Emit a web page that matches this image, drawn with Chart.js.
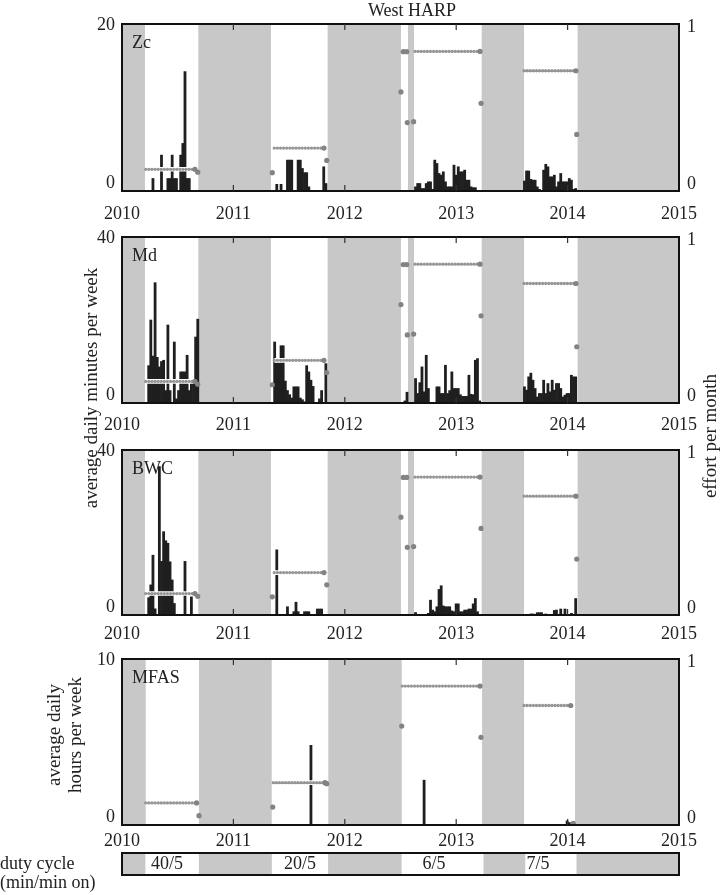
<!DOCTYPE html>
<html><head><meta charset="utf-8">
<script src="https://cdn.jsdelivr.net/npm/chart.js@4.4.1/dist/chart.umd.min.js"></script>
<style>
html,body{margin:0;padding:0;background:#fff;width:724px;height:895px;overflow:hidden;}
canvas{position:absolute;left:0;top:0;}
</style></head><body>
<canvas id="c1" width="724" height="895"></canvas>
<canvas id="c2" width="724" height="895"></canvas>
<canvas id="c3" width="724" height="895"></canvas>
<canvas id="c4" width="724" height="895"></canvas>
<script>
// ---------- data ----------
const years = [2010, 2011, 2012, 2013, 2014, 2015];
const yearLabels = ['2010', '2011', '2012', '2013', '2014', '2015'];
const effortTicks = ['0', '1'];

// first week (weeks since 1 Jan 2010) of each recording period's weekly values
const depStartWeek = [12, 71, 131, 137, 188];

const zcDep1 = [0, 0, 1.5, 0, 0, 0, 4.3, 0, 0, 1.5, 1.5, 4.3, 1.5, 1.5, 0, 4.3, 5.7, 14.3, 1.5, 1.5, 0, 0, 0, 0];
const zcDep2 = [0, 0.8, 0, 0.8, 0, 0, 3.7, 3.7, 3.7, 0, 0, 3.7, 3.7, 2.7, 2.2, 2.2, 0.5, 0, 0, 0, 0, 0, 0, 2.9, 0.9, 0];
const zcDep3a = [0, 0, 0];
const zcDep3b = [0.5, 0.9, 0.9, 0.3, 0.3, 0.9, 1.1, 1.1, 0.2, 3.7, 3.3, 2.1, 1.9, 2.3, 1.1, 0.5, 0.5, 0.5, 3.1, 1.9, 2.9, 2.3, 2.3, 2.5, 1.3, 1.3, 0.5, 0.4, 0.4, 0, 0];
const zcDep4 = [1.2, 2.4, 2.4, 1.4, 1.3, 1.3, 0.5, 0.2, 0, 2.5, 3.2, 2.9, 1.7, 1.7, 1.9, 0.5, 1.1, 2.1, 1.1, 1.1, 1.1, 1.5, 1.3, 0.2, 0.3];

const mdDep1 = [9, 20, 11.3, 29, 11, 8.7, 10, 10.3, 3, 18.8, 3, 0, 14.7, 1, 3, 7.5, 7.5, 7.5, 11.5, 3, 5.5, 5.5, 15.9, 20.2];
const mdDep2 = [14.7, 9.7, 9.7, 13.8, 13.8, 5.3, 3, 2, 1.2, 3.9, 3.9, 3.9, 1.2, 0.8, 0.3, 9, 7.5, 5.5, 4, 0, 0, 1, 3, 0, 9.5, 0];
const mdDep3a = [0, 0.5, 2.6];
const mdDep3b = [5.9, 2.3, 4.9, 8.7, 2.7, 11.5, 3.5, 0, 0, 0, 3.9, 3.9, 2.3, 2.3, 9.1, 2.3, 3, 7.5, 3.5, 3.5, 3.5, 2, 1.6, 1.6, 1.6, 6.7, 2.1, 2, 10.3, 10.7, 0.5];
const mdDep4 = [3.9, 3.1, 6.3, 7.2, 5.5, 3.5, 1.45, 2.3, 2.3, 5.5, 2.3, 4.7, 2.7, 5.5, 3.1, 4.7, 4.7, 3.5, 1.45, 1.9, 2.3, 2.3, 6.7, 6.3, 6.3];

const bwcDep1 = [4.2, 7.3, 14.5, 1.5, 0, 36, 13, 20.2, 18, 17.4, 12.9, 8.5, 2.8, 0, 0, 0, 0, 13, 0, 0, 4.4, 0, 0, 0];
const bwcDep2 = [0, 15.8, 0, 0, 0, 0, 2, 0, 0, 0.8, 3.1, 0.8, 0, 0, 0.8, 0.8, 0.8, 0, 0, 0, 1.45, 1.45, 1.45, 0, 0, 0];
const bwcDep3a = [0, 0, 0];
const bwcDep3b = [0.6, 0, 0, 0, 0, 0, 0.4, 3.6, 1.2, 0.8, 2, 6.2, 7.1, 2.2, 2, 2, 2, 1, 0.8, 2.7, 2.7, 0.8, 0.8, 1.2, 1.2, 1.45, 1.45, 2.7, 4, 0.8, 0];
const bwcDep4 = [0, 0, 0, 0.25, 0.25, 0, 0.57, 0.57, 0.57, 0, 0.25, 0, 0, 0, 1.1, 1.2, 0, 1.45, 0, 1.45, 0, 0, 0.4, 0, 4];

const mfasStartWeek = [88, 141, 208];
const mfasDep2 = [4.8];
const mfasDep3 = [2.7];
const mfasDep4 = [0.25, 0.15];

// effort per month (right axis)
const effortStart = [2010.213, 2011.367, 2012.630, 2013.609];
const effortEnd   = [2010.655, 2011.813, 2013.214, 2014.075];
const effortLevel = [0.13, 0.257, 0.836, 0.72];
const effortDotX = [2010.655, 2010.680, 2011.349, 2011.813, 2011.838, 2012.504, 2012.525, 2012.556, 2012.561, 2012.618, 2013.214, 2013.223, 2014.075, 2014.082];
const effortDotY = [0.13, 0.113, 0.11, 0.257, 0.183, 0.593, 0.834, 0.834, 0.41, 0.415, 0.836, 0.525, 0.72, 0.339];

const mfasEffortStart = [2010.213, 2011.358, 2012.515, 2013.609];
const mfasEffortEnd   = [2010.670, 2011.822, 2013.214, 2014.028];
const mfasEffortLevel = [0.133, 0.255, 0.837, 0.72];
const mfasDotX = [2010.670, 2010.691, 2011.353, 2011.822, 2011.838, 2012.511, 2013.214, 2013.222, 2014.028, 2014.051];
const mfasDotY = [0.133, 0.056, 0.108, 0.255, 0.249, 0.596, 0.837, 0.528, 0.72, 0.01];

// periods without recording (grey)
const offStart = [2010.0, 2010.685, 2011.846, 2012.567, 2013.229, 2014.090];
const offEnd   = [2010.206, 2011.337, 2012.504, 2012.621, 2013.609, 2015.0];
const mfasOffStart = [2010.0, 2010.691, 2011.852, 2013.232, 2014.067];
const mfasOffEnd   = [2010.213, 2011.344, 2012.511, 2013.609, 2015.0];
const dutyOffStart = [2010.0, 2010.690, 2011.850, 2013.245, 2014.080];
const dutyOffEnd   = [2010.210, 2011.345, 2012.510, 2013.620, 2015.0];
const dutyLabels = ['40/5', '20/5', '6/5', '7/5'];
const dutyLabelAt = [2010.405, 2011.598, 2012.800, 2013.734];

// ---------- helpers ----------
const WEEK = 7 / 365.25;
const SERIF = '"Liberation Serif", "Times New Roman", serif';
function weekX(k) { return 2010 + (k + 0.5) * WEEK; }
function barPoints(starts, series) {
  const pts = [];
  series.forEach((vals, i) => vals.forEach((v, j) => pts.push({ x: weekX(starts[i] + j), y: v })));
  return pts;
}
function effortDatasets(st, en, lv, dx, dy) {
  const ds = [];
  st.forEach((s, i) => {
    const d = [{ x: s, y: lv[i] }, { x: en[i], y: lv[i] }];
    ds.push({ type: 'line', data: d, yAxisID: 'y2', borderColor: '#ffffff', borderWidth: 4.6,
      pointRadius: 0, order: 2, fill: false });
    ds.push({ type: 'line', data: d, yAxisID: 'y2', borderColor: '#969696', borderWidth: 3.3,
      borderDash: [0.001, 3.1], borderCapStyle: 'round', pointRadius: 0, order: 1, fill: false });
  });
  ds.push({ type: 'line', data: dx.map((x, i) => ({ x, y: dy[i] })), yAxisID: 'y2', showLine: false,
    pointRadius: 2.6, pointBackgroundColor: '#838383', pointBorderWidth: 0, order: 0 });
  return ds;
}

function panelPlugin(cfg) {
  return {
    id: 'panel' + cfg.label,
    beforeDatasetsDraw(chart) {
      const { ctx, chartArea: a, scales: { x } } = chart;
      ctx.save();
      ctx.fillStyle = '#c8c8c8';
      cfg.offS.forEach((s, i) => {
        const x0 = x.getPixelForValue(s), x1 = x.getPixelForValue(cfg.offE[i]);
        ctx.fillRect(x0, a.top, x1 - x0, a.bottom - a.top);
      });
      ctx.restore();
    },
    afterDraw(chart) {
      const { ctx, chartArea: a, scales: { x, y, y2 } } = chart;
      ctx.save();
      ctx.strokeStyle = '#111'; ctx.lineWidth = 2;
      ctx.strokeRect(a.left, a.top, a.right - a.left, a.bottom - a.top);
      ctx.lineWidth = 1.2; ctx.strokeStyle = '#333';
      years.slice(1, -1).forEach(v => {
        const px = x.getPixelForValue(v);
        ctx.beginPath();
        ctx.moveTo(px, a.top); ctx.lineTo(px, a.top + 6);
        ctx.moveTo(px, a.bottom); ctx.lineTo(px, a.bottom - 6);
        ctx.stroke();
      });
      ctx.font = '18px ' + SERIF; ctx.fillStyle = '#222'; ctx.textBaseline = 'middle';
      ctx.textAlign = 'right';
      ctx.fillText(cfg.yTicks[1], a.left - 7, y.getPixelForValue(cfg.yMax) + 1);
      ctx.fillText(cfg.yTicks[0], a.left - 7, y.getPixelForValue(0) - 7.5);
      ctx.textAlign = 'left';
      ctx.fillText(effortTicks[1], a.right + 8, y2.getPixelForValue(1) + 3.5);
      ctx.fillText(effortTicks[0], a.right + 8, y2.getPixelForValue(0) - 7);
      ctx.textBaseline = 'alphabetic';
      ctx.fillText(cfg.label, a.left + 10, a.top + 23.5);
      if (cfg.extra) cfg.extra(chart);
      ctx.restore();
    }
  };
}

function rotText(ctx, txt, x, y) {
  ctx.save();
  ctx.translate(x, y); ctx.rotate(-Math.PI / 2);
  ctx.textAlign = 'center'; ctx.textBaseline = 'middle';
  ctx.fillText(txt, 0, 0);
  ctx.restore();
}

function makePanel(id, cfg) {
  const H = 895;
  return new Chart(document.getElementById(id), {
    type: 'bar',
    data: {
      datasets: [
        ...cfg.effort,
        { type: 'bar', data: cfg.bars, yAxisID: 'y', backgroundColor: '#1f1f1f', borderWidth: 0,
          barPercentage: 1, categoryPercentage: 1, order: 3 }
      ]
    },
    options: {
      responsive: false, animation: false, events: [],
      layout: { padding: { top: cfg.top, left: 0, right: 0, bottom: 0 } },
      plugins: { legend: { display: false }, tooltip: { enabled: false } },
      scales: {
        x: { type: 'linear', min: 2010, max: 2015, offset: false, position: 'bottom',
          grid: { display: false }, border: { display: false },
          ticks: { stepSize: 1, autoSkip: false, maxRotation: 0, padding: cfg.xPad, color: '#222',
            font: { family: SERIF, size: 18 },
            callback: v => { const i = years.indexOf(v); return i >= 0 ? yearLabels[i] : ''; } },
          afterFit: s => { s.height = H - cfg.bottom; } },
        y: { type: 'linear', position: 'left', min: 0, max: cfg.yMax,
          grid: { display: false }, border: { display: false }, ticks: { display: false },
          afterFit: s => { s.width = 122; } },
        y2: { type: 'linear', position: 'right', min: 0, max: 1,
          grid: { display: false }, border: { display: false }, ticks: { display: false },
          afterFit: s => { s.width = 45; } }
      }
    },
    plugins: [panelPlugin(cfg)]
  });
}

const stdEffort = () => effortDatasets(effortStart, effortEnd, effortLevel, effortDotX, effortDotY);

makePanel('c1', {
  top: 24, bottom: 191, xPad: 4, yMax: 20, yTicks: ['0', '20'], label: 'Zc', offS: offStart, offE: offEnd,
  bars: barPoints(depStartWeek, [zcDep1, zcDep2, zcDep3a, zcDep3b, zcDep4]), effort: stdEffort(),
  extra: chart => {
    const ctx = chart.ctx;
    ctx.font = '18px ' + SERIF; ctx.textAlign = 'center'; ctx.textBaseline = 'alphabetic';
    ctx.fillText('West HARP', 412, 16);
  }
});
makePanel('c2', {
  top: 237, bottom: 403, xPad: 3, yMax: 40, yTicks: ['0', '40'], label: 'Md', offS: offStart, offE: offEnd,
  bars: barPoints(depStartWeek, [mdDep1, mdDep2, mdDep3a, mdDep3b, mdDep4]), effort: stdEffort(),
  extra: chart => {
    const ctx = chart.ctx;
    ctx.font = '19px ' + SERIF;
    rotText(ctx, 'average daily minutes per week', 92, 388);
    rotText(ctx, 'effort per month', 711, 436);
  }
});
makePanel('c3', {
  top: 450, bottom: 615, xPad: 0, yMax: 40, yTicks: ['0', '40'], label: 'BWC', offS: offStart, offE: offEnd,
  bars: barPoints(depStartWeek, [bwcDep1, bwcDep2, bwcDep3a, bwcDep3b, bwcDep4]), effort: stdEffort()
});
makePanel('c4', {
  top: 659, bottom: 825, xPad: -3, yMax: 10, yTicks: ['0', '10'], label: 'MFAS', offS: mfasOffStart, offE: mfasOffEnd,
  bars: barPoints(mfasStartWeek, [mfasDep2, mfasDep3, mfasDep4]),
  effort: effortDatasets(mfasEffortStart, mfasEffortEnd, mfasEffortLevel, mfasDotX, mfasDotY),
  extra: chart => {
    const { ctx, chartArea: a, scales: { x } } = chart;
    ctx.font = '19px ' + SERIF; ctx.fillStyle = '#222';
    rotText(ctx, 'average daily', 55, 735);
    rotText(ctx, 'hours per week', 76, 735);
    // duty cycle strip
    const dTop = 853, dBot = 875;
    ctx.fillStyle = '#fff';
    ctx.fillRect(a.left, dTop, a.right - a.left, dBot - dTop);
    ctx.fillStyle = '#c8c8c8';
    dutyOffStart.forEach((s, i) => {
      const x0 = x.getPixelForValue(s), x1 = x.getPixelForValue(dutyOffEnd[i]);
      ctx.fillRect(x0, dTop, x1 - x0, dBot - dTop);
    });
    ctx.strokeStyle = '#111'; ctx.lineWidth = 2;
    ctx.strokeRect(a.left, dTop, a.right - a.left, dBot - dTop);
    ctx.fillStyle = '#222'; ctx.font = '18px ' + SERIF;
    ctx.textAlign = 'center'; ctx.textBaseline = 'middle';
    dutyLabels.forEach((t, i) => ctx.fillText(t, x.getPixelForValue(dutyLabelAt[i]), 864));
    ctx.textAlign = 'left';
    ctx.fillText('duty cycle', 0, 864);
    ctx.fillText('(min/min on)', 0, 883);
  }
});
</script>
</body></html>
